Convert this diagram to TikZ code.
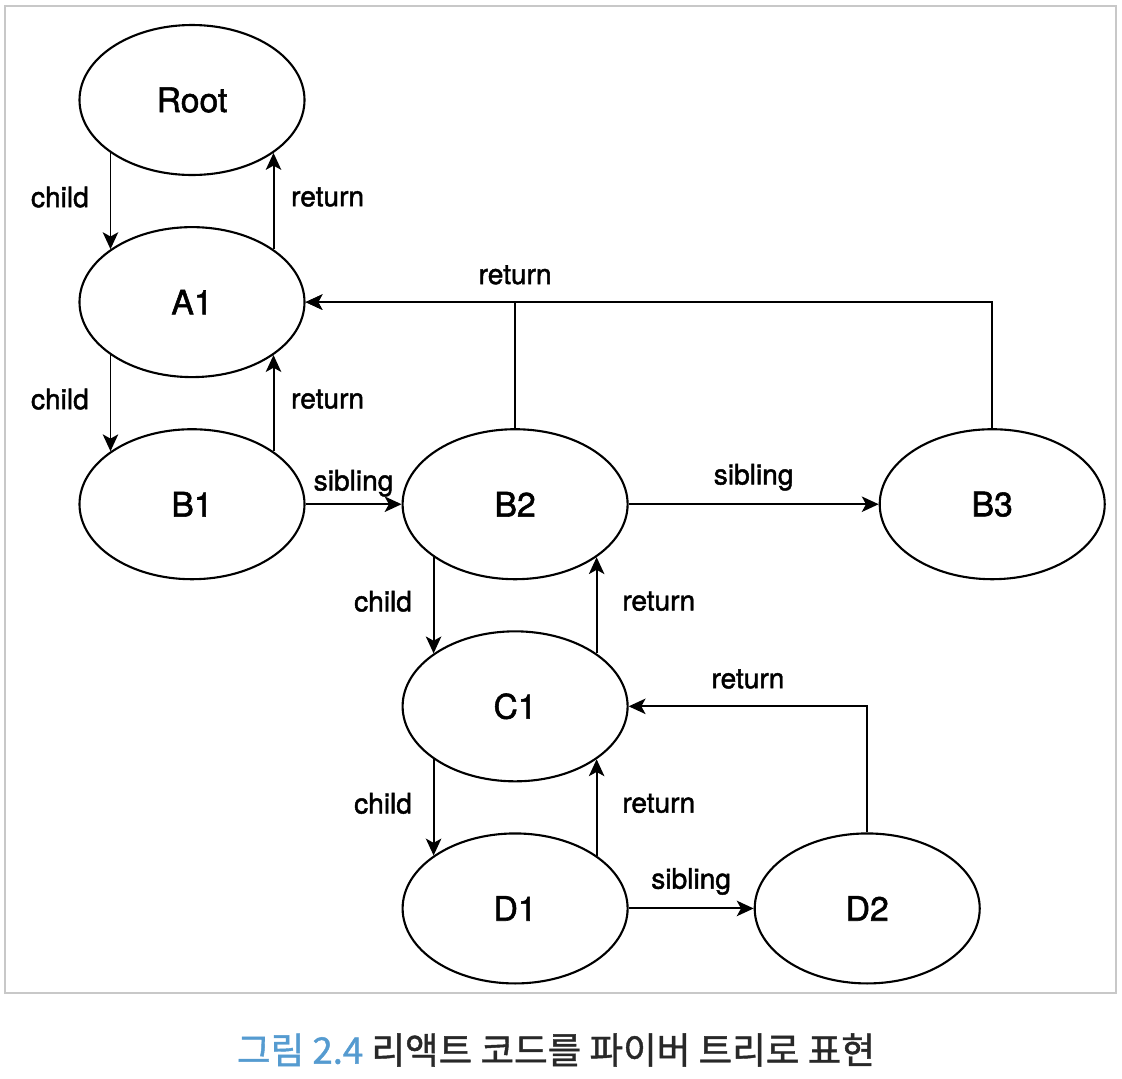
\documentclass[tikz,border=0pt]{standalone}
\usepackage{fontspec}
\setmainfont{TeX Gyre Heros}[FakeBold=1.6]
\newfontfamily\cjk{Noto Sans CJK KR}[FakeBold=1.2]
\usepackage{tikz}
\usetikzlibrary{arrows.meta, positioning, shapes.geometric, calc}
\definecolor{framegray}{RGB}{200,200,200}
\definecolor{capblue}{RGB}{85,155,208}
\definecolor{captext}{RGB}{40,40,40}

\begin{document}
\begin{tikzpicture}[
    fiber/.style={ellipse, draw, line width=1.5pt, minimum width=5.625cm, minimum height=3.75cm, text centered, font=\fontsize{24}{28}\selectfont},
    arrow/.style={-{Stealth[length=12pt, width=11pt, inset=3pt]}, line width=1.4pt},
    lbl/.style={font=\fontsize{20}{24}\selectfont}]
    % Frame
    \useasboundingbox (0,0) rectangle (28.05,-26.95);
    \draw[framegray, line width=0.8pt] (0.125,-0.15) rectangle (27.9,-24.825);
    % Nodes
    \node[fiber] (root) at (4.8,-2.5) {Root};
    \node[fiber, below=1.25cm of root] (a1) {A1};
    \node[fiber, below=1.25cm of a1] (b1) {B1};
    \node[fiber, right=2.4cm of b1] (b2) {B2};
    \node[fiber, right=6.25cm of b2] (b3) {B3};
    \node[fiber, below=1.25cm of b2] (c1) {C1};
    \node[fiber, below=1.25cm of c1] (d1) {D1};
    \node[fiber, right=3.125cm of d1] (d2) {D2};
    \node[font=\cjk\fontsize{26}{30}\selectfont] (cap) at (13.9,-26.25) {\textcolor{capblue}{그림 2.4} \textcolor{captext}{리액트 코드를 파이버 트리로 표현}};

    % Arrows
    \draw[arrow] (root.213) -- node[lbl, left=4mm, yshift=1mm] {child} (a1.147);
    \draw[arrow] (a1.33) -- node[lbl, right=3mm, yshift=1mm] {return} (root.327);
    \draw[arrow] (a1.213) -- node[lbl, left=4mm, yshift=1mm] {child} (b1.147);
    \draw[arrow] (b1.33) -- node[lbl, right=3mm, yshift=1mm] {return} (a1.327);
    \draw[arrow] (b1) -- node[lbl, above=0.5mm] {sibling} (b2);
    \draw[arrow] (b2) -- node[lbl, above=2mm] {sibling} (b3);
    \draw[arrow] (b2.north) |- node[lbl, pos=0.5, above=3mm] {return} (a1.east);
    \draw[arrow] (b3.north) |- (a1.east);
    \draw[arrow] (b2.213) -- node[lbl, left=4mm, yshift=1mm] {child} (c1.147);
    \draw[arrow] (c1.33) -- node[lbl, right=5mm, yshift=1mm] {return} (b2.327);
    \draw[arrow] (c1.213) -- node[lbl, left=4mm, yshift=1mm] {child} (d1.147);
    \draw[arrow] (d1.33) -- node[lbl, right=5mm, yshift=1mm] {return} (c1.327);
    \draw[arrow] (d1) -- node[lbl, above=2mm] {sibling} (d2);
    \draw[arrow] (d2.north) |- node[lbl, pos=0.75, above=3mm] {return} (c1.east);
\end{tikzpicture}
\end{document}
